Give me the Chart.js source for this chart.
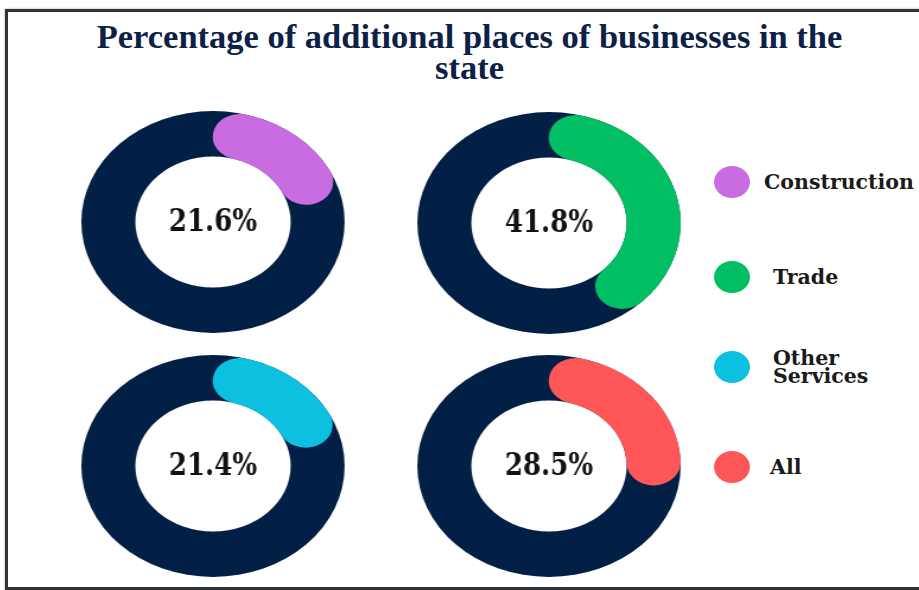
<!DOCTYPE html>
<html>
<head>
<meta charset="utf-8">
<script src="https://cdn.jsdelivr.net/npm/chart.js@4.4.1/dist/chart.umd.min.js"></script>
<style>
  html, body { margin: 0; padding: 0; background: #fff; }
  body { width: 919px; height: 590px; position: relative; overflow: hidden; }
  .frame {
    position: absolute; left: 5px; top: 9px; width: 940px; height: 575px;
    border: 3px solid #2f3438; box-shadow: 0 0 2px #9aa0a6;
  }
  .title {
    position: absolute; left: 0; width: 939px; top: 22px; text-align: center;
    font-family: "Liberation Serif", serif; font-weight: bold; font-size: 33px;
    line-height: 31px; color: #0c2146; transform: scaleX(1.045); transform-origin: 469px 0;
  }
  .donut { position: absolute; width: 222px; height: 222px; transform: scaleX(1.186); transform-origin: 50% 50%; }
  .legend-item { position: absolute; left: 714px; height: 32px; }
  .legend-dot { position: absolute; left: 0; top: 0; width: 36px; height: 32px; border-radius: 50%; }
  .legend-text {
    position: absolute; top: 50%; transform: translateY(-50%); white-space: nowrap;
    font-family: "DejaVu Serif", serif; font-weight: bold; font-size: 20.5px; line-height: 18px; color: #1b1b1b;
  }
</style>
</head>
<body>
<div class="frame"></div>
<div class="title">Percentage of additional places of businesses in the<br>state</div>
<div class="donut" style="left:102px; top:111px;"><canvas id="d0" width="222" height="222"></canvas></div>
<div class="donut" style="left:438px; top:112px;"><canvas id="d1" width="222" height="222"></canvas></div>
<div class="donut" style="left:102px; top:355px;"><canvas id="d2" width="222" height="222"></canvas></div>
<div class="donut" style="left:438px; top:355px;"><canvas id="d3" width="222" height="222"></canvas></div>
<div id="legend"></div>
<script>
const categories = ['Construction', 'Trade', 'Other Services', 'All'];
const legendLines = [['Construction'], ['Trade'], ['Other', 'Services'], ['All']];
const shares = [21.6, 41.8, 21.4, 28.5];
const colours = ['#c96ce2', '#02bf63', '#0cc0df', '#ff5757'];
const ringColour = '#021f46';

// full navy ring behind the coloured arc
const ringBack = {
  id: 'ringBack',
  beforeDatasetsDraw(chart) {
    const arc = chart.getDatasetMeta(0).data[0];
    const p = arc.getProps(['x', 'y', 'innerRadius', 'outerRadius'], true);
    const ctx = chart.ctx;
    ctx.save();
    ctx.beginPath();
    ctx.arc(p.x, p.y, p.outerRadius, 0, Math.PI * 2);
    ctx.arc(p.x, p.y, p.innerRadius, 0, Math.PI * 2, true);
    ctx.fillStyle = ringColour;
    ctx.fill();
    ctx.restore();
  }
};

// percentage in the hole (undo the horizontal stretch of the box)
const centerText = {
  id: 'centerText',
  afterDatasetsDraw(chart) {
    const arc = chart.getDatasetMeta(0).data[0];
    const p = arc.getProps(['x', 'y'], true);
    const ctx = chart.ctx;
    ctx.save();
    ctx.translate(p.x, p.y + 1);
    ctx.scale(0.71, 1);
    ctx.font = 'bold 31px "DejaVu Serif"';
    ctx.fillStyle = '#111';
    ctx.textAlign = 'center';
    ctx.textBaseline = 'middle';
    ctx.fillText(chart.data.datasets[0].data[0].toFixed(1) + '%', 0, 0);
    ctx.restore();
  }
};

shares.forEach(function (v, i) {
  new Chart(document.getElementById('d' + i), {
    type: 'doughnut',
    data: {
      labels: [categories[i], ''],
      datasets: [{
        data: [v, 100 - v],
        backgroundColor: [colours[i], 'rgba(0,0,0,0)'],
        borderWidth: 0,
        borderRadius: (c) => c.dataIndex === 0 ? 100 : 0
      }]
    },
    options: {
      responsive: false,
      animation: false,
      events: [],
      cutout: '59%',
      layout: { padding: 0 },
      plugins: {
        legend: { display: false },
        tooltip: { enabled: false }
      }
    },
    plugins: [ringBack, centerText]
  });
});

const legendTop = [166, 261, 351, 451];
const legendIndent = [50, 59, 59, 56];
const legend = document.getElementById('legend');
categories.forEach(function (c, i) {
  const item = document.createElement('div');
  item.className = 'legend-item';
  item.style.top = legendTop[i] + 'px';
  item.innerHTML = '<span class="legend-dot" style="background:' + colours[i] + '"></span>' +
    '<span class="legend-text" style="left:' + legendIndent[i] + 'px">' + legendLines[i].join('<br>') + '</span>';
  legend.appendChild(item);
});
</script>
</body>
</html>
